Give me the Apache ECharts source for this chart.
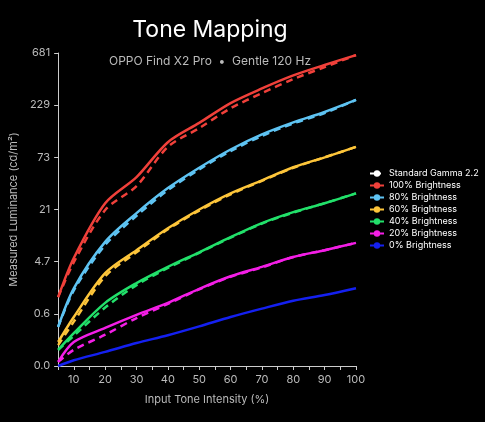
<!DOCTYPE html>
<html>
<head>
    <meta charset="utf-8" />
    <title>Tone Mapping</title>
    <script src="https://cdn.jsdelivr.net/npm/echarts@6/dist/echarts.min.js"></script>
    <style type="text/css">
        html, body { margin: 0; padding: 0; background: #000; }
        #chart { width: 485px; height: 422px; }
    </style>
</head>
<body>
    <div id="chart"></div>
    <script type="text/javascript">
        // x: input tone intensity (%); y: position on the chart's luminance scale (tick index 0..6)
        var xValues = [5, 10, 20, 30, 40, 50, 60, 70, 80, 90, 100];
        var yTickLabels = ['0.0', '0.6', '4.7', '21', '73', '229', '681'];

        var names = ['100% Brightness', '80% Brightness', '60% Brightness', '40% Brightness', '20% Brightness', '0% Brightness'];
        var colors = ['#f0403a', '#5ec3f2', '#fdc53a', '#22e06a', '#f41ee6', '#1420f0'];

        var measured = [
            [1.32, 2.07, 3.12, 3.62, 4.29, 4.66, 5.04, 5.32, 5.57, 5.77, 5.96],
            [0.75, 1.49, 2.38, 2.93, 3.41, 3.80, 4.15, 4.44, 4.67, 4.87, 5.10],
            [0.46, 0.94, 1.78, 2.22, 2.64, 3.00, 3.31, 3.56, 3.81, 4.00, 4.20],
            [0.31, 0.63, 1.21, 1.59, 1.90, 2.18, 2.47, 2.74, 2.95, 3.12, 3.31],
            [0.08, 0.46, 0.73, 0.98, 1.21, 1.48, 1.72, 1.90, 2.09, 2.22, 2.36],
            [0.00, 0.11, 0.27, 0.44, 0.59, 0.76, 0.94, 1.10, 1.25, 1.36, 1.49]
        ];
        var gamma = [
            [1.32, 1.99, 2.99, 3.45, 4.20, 4.56, 4.94, 5.23, 5.50, 5.73, 5.96],
            [0.75, 1.45, 2.32, 2.88, 3.37, 3.77, 4.12, 4.41, 4.65, 4.85, 5.10],
            [0.40, 0.85, 1.72, 2.18, 2.62, 2.98, 3.29, 3.55, 3.80, 4.00, 4.20],
            [0.31, 0.58, 1.12, 1.55, 1.88, 2.17, 2.46, 2.73, 2.94, 3.12, 3.31],
            [0.08, 0.31, 0.60, 0.92, 1.19, 1.47, 1.71, 1.89, 2.09, 2.22, 2.36]
        ];

        var pairs = function (ys) {
            return ys.map(function (y, i) { return [xValues[i], y]; });
        };

        var series = [];
        gamma.forEach(function (g, i) {
            series.push({
                name: 'gamma' + i, type: 'line', data: pairs(g), symbol: 'none', z: 3, smooth: 0.3,
                lineStyle: { color: colors[i], width: 2.5, type: [7, 5] }
            });
        });
        measured.forEach(function (m, i) {
            series.push({
                name: names[i], type: 'line', data: pairs(m), symbol: 'none', z: 2, smooth: 0.3,
                itemStyle: { color: colors[i] },
                lineStyle: { color: colors[i], width: 2.5 }
            });
        });
        series.push({
            name: 'Standard Gamma 2.2', type: 'line', data: [], symbol: 'none',
            itemStyle: { color: '#fff' },
            lineStyle: { color: '#fff', width: 2.5, type: [4, 3] }
        });

        var option = {
            backgroundColor: '#000',
            animation: false,
            title: [
                { text: 'Tone Mapping', left: 205, top: 14, textAlign: 'center',
                  textStyle: { color: '#fff', fontSize: 23, fontWeight: 'normal', fontFamily: 'Inter' } },
                { text: 'OPPO Find X2 Pro  •  Gentle 120 Hz', left: 205, top: 50, textAlign: 'center',
                  textStyle: { color: '#bbb', fontSize: 12, fontWeight: 'normal', fontFamily: 'Inter' } }
            ],
            legend: {
                data: ['Standard Gamma 2.2'].concat(names),
                orient: 'vertical', left: 364, top: 164, itemGap: 3,
                itemWidth: 14, itemHeight: 8,
                textStyle: { color: '#fff', fontSize: 9, fontFamily: 'Inter' }
            },
            grid: { left: 55, right: 129, top: 53, bottom: 56 },
            xAxis: {
                type: 'value', min: 5, max: 100, interval: 5,
                name: 'Input Tone Intensity (%)', nameLocation: 'middle', nameGap: 28,
                nameTextStyle: { color: '#bbb', fontSize: 11, fontFamily: 'Inter' },
                axisLine: { lineStyle: { color: '#ccc' } },
                axisTick: { lineStyle: { color: '#ccc' }, length: 4 },
                axisLabel: { color: '#bbb', fontSize: 11, fontFamily: 'Inter',
                    formatter: function (v) { return v % 10 === 0 ? v : ''; } },
                splitLine: { show: false }
            },
            yAxis: {
                type: 'value', min: 0, max: 6, interval: 1,
                name: 'Measured Luminance (cd/m²)', nameLocation: 'middle', nameGap: 36,
                nameTextStyle: { color: '#bbb', fontSize: 11, fontFamily: 'Inter' },
                axisLine: { show: true, lineStyle: { color: '#ccc' } },
                axisTick: { show: true, lineStyle: { color: '#ccc' }, length: 4 },
                axisLabel: { color: '#bbb', fontSize: 11, fontFamily: 'Inter',
                    formatter: function (v) { return yTickLabels[v]; } },
                splitLine: { show: false }
            },
            series: series
        };

        var myChart = echarts.init(document.getElementById('chart'));
        myChart.setOption(option);
    </script>
</body>
</html>
